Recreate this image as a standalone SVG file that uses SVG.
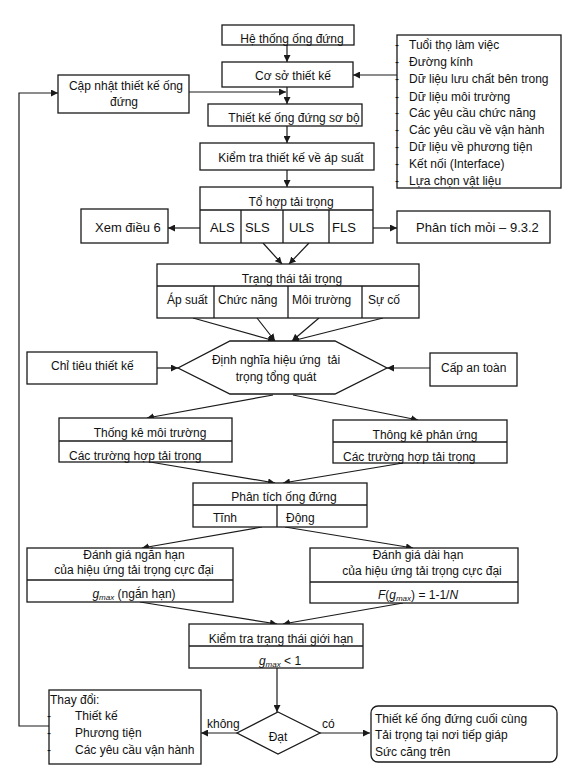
<svg xmlns="http://www.w3.org/2000/svg" width="575" height="770" viewBox="0 0 575 770">
<defs>
<style>
text{font-family:"Liberation Sans",Arial,sans-serif;font-size:12px;fill:#111}
.b{fill:#fff;stroke:#1a1a1a;stroke-width:1.3}
.l{fill:none;stroke:#1a1a1a;stroke-width:1.3}
.c{stroke:#1a1a1a;stroke-width:1.2;fill:none;marker-end:url(#ah)}
.m{text-anchor:middle}
.t13{font-size:13px}
.i{font-style:italic}
</style>
<marker id="ah" viewBox="0 0 10 10" refX="10" refY="5" markerWidth="7" markerHeight="7" markerUnits="userSpaceOnUse" orient="auto">
<path d="M0,0 L10,5 L0,10 z" fill="#1a1a1a"/>
</marker>
</defs>
<rect width="575" height="770" fill="#fff"/>

<g id="connectors">
<line class="c" x1="287" y1="45" x2="287" y2="62"/>
<line class="c" x1="287" y1="87" x2="287" y2="104"/>
<line class="c" x1="189" y1="92" x2="286" y2="92"/>
<line class="c" x1="287" y1="126" x2="287" y2="143"/>
<line class="c" x1="287" y1="170" x2="287" y2="187"/>
<line class="c" x1="397" y1="75" x2="353" y2="75"/>
<line class="c" x1="200" y1="228" x2="168" y2="228"/>
<line class="c" x1="373" y1="228" x2="397" y2="228"/>
<line class="c" x1="263" y1="243" x2="282" y2="264"/>
<line class="c" x1="309" y1="243" x2="289" y2="264"/>
<line class="c" x1="193" y1="318" x2="275" y2="341"/>
<line class="c" x1="257" y1="318" x2="275" y2="341"/>
<line class="c" x1="319" y1="318" x2="292" y2="341"/>
<line class="c" x1="383" y1="318" x2="292" y2="341"/>
<line class="c" x1="157" y1="368" x2="178" y2="368"/>
<line class="c" x1="430" y1="368" x2="387" y2="368"/>
<line class="c" x1="273" y1="395" x2="147" y2="418"/>
<line class="c" x1="293" y1="395" x2="418" y2="420"/>
<line class="c" x1="150" y1="462" x2="275" y2="483"/>
<line class="c" x1="403" y1="463" x2="283" y2="483"/>
<line class="c" x1="262" y1="527" x2="142" y2="548"/>
<line class="c" x1="285" y1="527" x2="413" y2="548"/>
<line class="c" x1="140" y1="602" x2="277" y2="624"/>
<line class="c" x1="403" y1="603" x2="283" y2="624"/>
<line class="c" x1="277" y1="668" x2="277" y2="712"/>
<line class="c" x1="237" y1="733" x2="201" y2="733"/>
<line class="c" x1="320" y1="733" x2="370" y2="733"/>
<polyline class="c" points="49,726 19,726 19,93 58,93"/>
<text x="207" y="728">không</text>
<text x="322" y="728">có</text>
</g>

<g id="he-thong">
<rect class="b" x="222" y="25" width="132" height="20"/>
<text class="m" x="292" y="43">Hệ thống ống đứng</text>
</g>

<g id="co-so">
<rect class="b" x="222" y="62" width="131" height="25"/>
<text class="m" x="293" y="80">Cơ sở thiết kế</text>
</g>

<g id="inputs">
<rect class="b" x="397" y="35" width="164" height="153"/>
<text><tspan x="395" y="49">-</tspan><tspan x="409">Tuổi thọ làm việc</tspan></text>
<text><tspan x="395" y="66">-</tspan><tspan x="409">Đường kính</tspan></text>
<text><tspan x="395" y="83">-</tspan><tspan x="409">Dữ liệu lưu chất bên trong</tspan></text>
<text><tspan x="395" y="101">-</tspan><tspan x="409">Dữ liệu môi trường</tspan></text>
<text><tspan x="395" y="117">-</tspan><tspan x="409">Các yêu cầu chức năng</tspan></text>
<text><tspan x="395" y="134">-</tspan><tspan x="409">Các yêu cầu về vận hành</tspan></text>
<text><tspan x="395" y="151">-</tspan><tspan x="409">Dữ liệu về phương tiện</tspan></text>
<text><tspan x="395" y="168">-</tspan><tspan x="409">Kết nối (Interface)</tspan></text>
<text><tspan x="395" y="185">-</tspan><tspan x="409">Lựa chọn vật liệu</tspan></text>
</g>

<g id="cap-nhat">
<rect class="b" x="58" y="75" width="131" height="38"/>
<text class="m" x="126" y="90">Cập nhật thiết kế ống</text>
<text class="m" x="124" y="106">đứng</text>
</g>

<g id="so-bo">
<rect class="b" x="208" y="104" width="154" height="22"/>
<text class="m" x="294" y="122">Thiết kế ống đứng sơ bộ</text>
</g>

<g id="kiem-tra-ap-suat">
<rect class="b" x="200" y="143" width="174" height="27"/>
<text class="m" x="291" y="162">Kiểm tra thiết kế về áp suất</text>
</g>

<g id="to-hop">
<rect class="b" x="200" y="187" width="173" height="56"/>
<line class="l" x1="200" y1="210" x2="373" y2="210"/>
<line class="l" x1="241" y1="210" x2="241" y2="243"/>
<line class="l" x1="283" y1="210" x2="283" y2="243"/>
<line class="l" x1="329" y1="210" x2="329" y2="243"/>
<text class="m" x="291" y="206">Tổ hợp tải trọng</text>
<text class="t13" x="210" y="232">ALS</text>
<text class="t13" x="245" y="232">SLS</text>
<text class="t13" x="289" y="232">ULS</text>
<text class="t13" x="332" y="232">FLS</text>
</g>

<g id="xem-dieu-6">
<rect class="b" x="81" y="209" width="87" height="34"/>
<text class="t13" x="95" y="232">Xem điều 6</text>
</g>

<g id="phan-tich-moi">
<rect class="b" x="397" y="211" width="153" height="32"/>
<text class="t13" x="416" y="232">Phân tích mỏi – 9.3.2</text>
</g>

<g id="trang-thai">
<rect class="b" x="157" y="264" width="262" height="54"/>
<line class="l" x1="157" y1="286" x2="419" y2="286"/>
<line class="l" x1="214" y1="286" x2="214" y2="318"/>
<line class="l" x1="288" y1="286" x2="288" y2="318"/>
<line class="l" x1="362" y1="286" x2="362" y2="318"/>
<text class="m" x="292" y="283">Trạng thái tải trọng</text>
<text x="167" y="304">Áp suất</text>
<text x="218" y="304">Chức năng</text>
<text x="292" y="304">Môi trường</text>
<text x="368" y="304">Sự cố</text>
</g>

<g id="dinh-nghia">
<polygon class="b" points="230,341 335,341 387,368 335,394 230,394 178,368"/>
<text class="m" x="276" y="364" xml:space="preserve" style="white-space:pre">Định nghĩa hiệu ứng  tải</text>
<text class="m" x="276" y="381">trọng tổng quát</text>
</g>

<g id="chi-tieu">
<rect class="b" x="27" y="352" width="130" height="32"/>
<text x="51" y="370">Chỉ tiêu thiết kế</text>
</g>

<g id="cap-an-toan">
<rect class="b" x="430" y="353" width="87" height="33"/>
<text x="441" y="372">Cấp an toàn</text>
</g>

<g id="thong-ke-moi-truong">
<rect class="b" x="59" y="418" width="173" height="44"/>
<line class="l" x1="59" y1="441" x2="232" y2="441"/>
<text class="m" x="150" y="437">Thống kê môi trường</text>
<text x="69" y="460">Các trường hợp tải trọng</text>
</g>

<g id="thong-ke-phan-ung">
<rect class="b" x="333" y="420" width="174" height="43"/>
<line class="l" x1="333" y1="442" x2="507" y2="442"/>
<text class="m" x="425" y="439">Thông kê phản ứng</text>
<text x="343" y="461">Các trường hợp tải trọng</text>
</g>

<g id="phan-tich-ong">
<rect class="b" x="193" y="483" width="174" height="44"/>
<line class="l" x1="193" y1="505" x2="367" y2="505"/>
<line class="l" x1="277" y1="505" x2="277" y2="527"/>
<text class="m" x="284" y="501">Phân tích ống đứng</text>
<text x="213" y="522">Tĩnh</text>
<text x="286" y="522">Động</text>
</g>

<g id="ngan-han">
<rect class="b" x="27" y="548" width="206" height="54"/>
<line class="l" x1="27" y1="580" x2="233" y2="580"/>
<text class="m" x="134" y="559">Đánh giá ngắn hạn</text>
<text class="m" x="134" y="574">của hiệu ứng tải trọng cực đại</text>
<text class="m" x="134" y="598"><tspan class="i">g</tspan><tspan class="i" font-size="8" dy="2">max</tspan><tspan dy="-2"> (ngắn hạn)</tspan></text>
</g>

<g id="dai-han">
<rect class="b" x="310" y="548" width="208" height="55"/>
<line class="l" x1="310" y1="582" x2="518" y2="582"/>
<text class="m" x="418" y="559">Đánh giá dài hạn</text>
<text class="m" x="422" y="575">của hiệu ứng tải trọng cực đại</text>
<text class="m" x="418" y="599"><tspan class="i">F</tspan><tspan>(</tspan><tspan class="i">g</tspan><tspan class="i" font-size="8" dy="2">max</tspan><tspan dy="-2">) = 1-1/</tspan><tspan class="i">N</tspan></text>
</g>

<g id="kiem-tra-gioi-han">
<rect class="b" x="189" y="624" width="174" height="44"/>
<line class="l" x1="189" y1="646" x2="363" y2="646"/>
<text class="m" x="281" y="643">Kiểm tra trạng thái giới hạn</text>
<text class="m" x="280" y="665"><tspan class="i">g</tspan><tspan class="i" font-size="8" dy="2">max</tspan><tspan dy="-2"> &lt; 1</tspan></text>
</g>

<g id="dat">
<polygon class="b" points="278,712 320,733 278,754 237,733"/>
<text class="m" x="278" y="741">Đạt</text>
</g>

<g id="thay-doi">
<rect class="b" x="49" y="690" width="152" height="74"/>
<text x="50" y="704">Thay đổi:</text>
<text><tspan x="47" y="720">-</tspan><tspan x="75">Thiết kế</tspan></text>
<text><tspan x="47" y="737">-</tspan><tspan x="75">Phương tiện</tspan></text>
<text><tspan x="47" y="754">-</tspan><tspan x="75">Các yêu cầu vận hành</tspan></text>
</g>

<g id="cuoi-cung">
<rect class="b" x="371" y="706" width="186" height="56" rx="7" ry="7"/>
<text x="375" y="723">Thiết kế ống đứng cuối cùng</text>
<text x="375" y="739">Tải trọng tại nơi tiếp giáp</text>
<text x="375" y="756">Sức căng trên</text>
</g>
</svg>
